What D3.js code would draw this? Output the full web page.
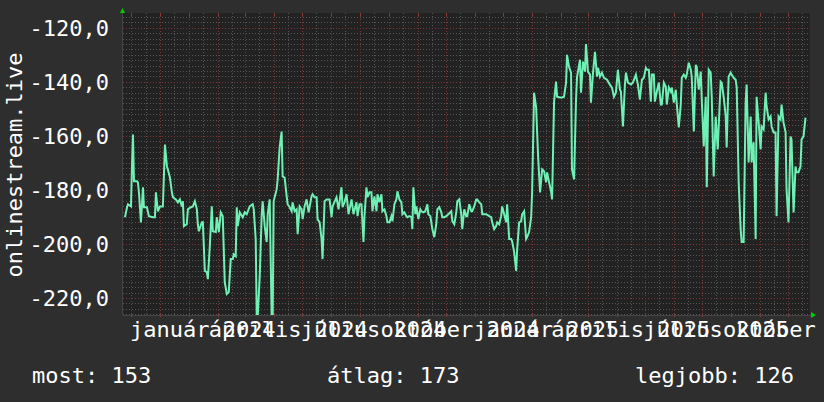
<!DOCTYPE html>
<html><head><meta charset="utf-8">
<script src="https://cdn.jsdelivr.net/npm/d3@7"></script>
<style>html,body{margin:0;padding:0;background:#2e2e2e;}svg{display:block}</style>
</head><body><svg id="c" width="824" height="402"></svg>
<script>
// ---------------- data ----------------
const startDate = "2023-10-23";
const endDate = "2025-10-24";
const yDomain = [-226.3, -114.5];
const yTicks = [-120, -140, -160, -180, -200, -220];
const yMinorStep = 2;
const monthNames = ["január","február","március","április","május","június","július","augusztus","szeptember","október","november","december"];
const labelDates = ["2024-01-01","2024-04-01","2024-07-01","2024-10-01","2025-01-01","2025-04-01","2025-07-01","2025-10-01"];
const yTitle = "onlinestream.live";
const legendTexts = ["most: 153", "átlag: 173", "legjobb: 126"];
// [days since startDate, value]
const series = [
[2.1,-190.1],[4.3,-186.4],[5.3,-185.3],[8.5,-186.1],[9.6,-170.6],[10.6,-159.5],[11.7,-176.8],[14.9,-176.8],[15.9,-177.2],[17.0,-180.9],
[19.1,-192.0],[21.3,-179.0],[22.3,-186.4],[25.5,-186.4],[27.6,-189.7],[31.9,-190.1],[34.0,-190.1],[35.1,-180.9],[37.2,-187.9],[39.3,-186.1],
[42.5,-186.1],[44.7,-163.2],[46.8,-171.3],[47.8,-172.4],[50.0,-175.4],[52.1,-180.9],[53.2,-182.7],[56.3,-183.5],[58.5,-184.6],[60.6,-183.5],
[62.7,-186.1],[63.8,-184.2],[64.9,-193.4],[68.0,-192.7],[69.1,-187.2],[72.3,-186.4],[74.4,-186.1],[76.6,-184.2],[78.7,-187.2],[79.7,-192.7],
[80.8,-195.3],[84.0,-192.0],[85.1,-192.0],[87.2,-210.0],[89.3,-210.4],[90.4,-213.0],[92.5,-200.8],[94.6,-186.1],[95.7,-195.3],[98.9,-195.6],
[99.9,-190.1],[102.1,-195.6],[104.2,-188.3],[106.3,-189.7],[108.4,-214.1],[110.6,-218.5],[112.7,-217.8],[114.8,-205.6],[117.0,-205.6],[118.0,-203.8],
[120.1,-204.5],[121.2,-186.4],[122.3,-193.4],[124.4,-188.3],[127.6,-190.1],[129.7,-188.3],[131.8,-189.0],[135.0,-186.1],[138.2,-185.3],[139.3,-187.2],
[141.4,-198.2],[142.5,-227],[143.5,-227],[145.7,-211.9],[147.8,-189.0],[148.8,-184.2],[151.0,-193.4],[153.1,-199.3],[154.2,-189.0],[156.3,-183.5],
[158.4,-227],[159.5,-227],[160.5,-184.2],[163.7,-179.8],[164.8,-176.1],[166.9,-164.3],[169.0,-158.4],[170.1,-175.0],[172.2,-175.4],[174.4,-182.4],
[175.4,-185.3],[177.6,-186.4],[179.7,-187.9],[180.7,-184.6],[182.9,-187.9],[185.0,-187.2],[186.1,-196.4],[188.2,-186.1],[190.3,-187.2],[191.4,-190.8],
[193.5,-186.1],[195.6,-183.5],[197.8,-188.3],[200.9,-182.4],[202.0,-181.6],[204.1,-182.7],[206.3,-182.7],[207.3,-190.8],[209.5,-192.0],[211.6,-198.2],
[212.6,-205.6],[214.8,-184.2],[216.9,-183.5],[220.1,-183.5],[222.2,-190.1],[223.3,-186.1],[227.5,-182.7],[229.7,-187.2],[232.8,-179.0],[233.9,-186.4],
[236.0,-184.6],[238.2,-181.6],[240.3,-189.0],[243.5,-183.5],[245.6,-189.0],[248.8,-184.6],[249.9,-189.7],[252.0,-185.3],[254.1,-185.3],[256.2,-199.3],
[257.3,-189.7],[259.4,-179.0],[260.5,-182.7],[262.6,-180.9],[264.7,-180.9],[265.8,-187.9],[267.9,-182.4],[270.1,-187.9],[271.1,-181.6],[273.2,-184.6],
[275.4,-181.6],[276.4,-187.9],[278.6,-187.2],[280.7,-189.7],[281.7,-192.0],[283.9,-192.0],[286.0,-189.7],[287.1,-191.6],[289.2,-185.3],[291.3,-183.5],
[292.4,-180.5],[294.5,-183.5],[296.6,-184.6],[297.7,-189.0],[299.8,-188.3],[301.9,-189.7],[303.0,-190.1],[305.1,-189.7],[307.3,-190.1],[308.3,-194.5],
[309.4,-179.0],[311.5,-189.0],[312.6,-186.1],[314.7,-190.8],[316.8,-187.2],[317.9,-187.9],[320.0,-188.3],[322.1,-187.9],[324.3,-185.3],[325.3,-189.0],
[327.5,-189.7],[329.6,-194.5],[331.7,-197.5],[333.8,-192.7],[334.9,-187.2],[337.0,-186.4],[339.2,-188.3],[340.2,-190.1],[342.4,-190.1],[344.5,-189.7],
[346.6,-189.0],[349.8,-187.9],[350.9,-191.6],[353.0,-192.7],[355.1,-188.3],[356.2,-184.2],[358.3,-183.5],[360.4,-189.0],[361.5,-194.5],[363.6,-187.2],
[365.7,-189.7],[366.8,-189.7],[368.9,-185.3],[371.1,-187.9],[372.1,-187.9],[374.2,-186.1],[376.4,-183.5],[377.4,-183.5],[379.6,-184.6],[381.7,-185.3],
[382.8,-189.0],[387.0,-189.0],[390.2,-189.7],[392.3,-190.1],[393.4,-192.0],[395.5,-194.5],[397.6,-193.4],[398.7,-192.0],[400.8,-192.7],[402.9,-189.7],
[404.0,-186.1],[406.1,-189.0],[408.3,-192.0],[409.3,-185.3],[411.5,-198.2],[413.6,-198.2],[414.6,-199.0],[416.8,-203.0],[418.9,-210.0],[420.0,-201.9],
[422.1,-192.0],[424.2,-191.6],[425.3,-189.0],[427.4,-187.9],[429.5,-198.2],[430.6,-197.5],[432.7,-195.6],[434.9,-190.1],[435.9,-180.9],[438.0,-144.0],
[440.2,-149.5],[442.3,-167.6],[444.4,-180.9],[446.6,-172.4],[448.7,-173.1],[450.8,-177.2],[451.9,-173.5],[454.0,-177.2],[456.1,-180.5],[457.2,-183.5],
[459.3,-147.3],[461.4,-139.9],[462.5,-145.5],[465.7,-145.8],[467.8,-145.8],[469.9,-145.5],[472.1,-140.3],[473.1,-130.0],[475.2,-134.4],[477.4,-136.6],
[478.4,-172.4],[480.6,-176.1],[482.7,-146.6],[483.8,-138.1],[486.9,-131.8],[488.0,-144.0],[490.1,-132.5],[492.3,-136.2],[493.3,-126.0],[495.4,-136.2],
[497.6,-137.3],[498.6,-147.7],[500.8,-136.6],[502.9,-128.9],[505.0,-138.1],[506.1,-134.8],[508.2,-138.1],[510.3,-136.6],[512.5,-138.5],[515.7,-139.2],
[518.8,-141.0],[521.0,-142.1],[523.1,-145.5],[525.2,-144.0],[527.3,-135.5],[529.5,-142.9],[530.5,-143.6],[532.7,-156.5],[534.8,-141.0],[535.9,-136.6],
[538.0,-140.3],[541.2,-141.0],[543.3,-140.3],[546.5,-137.3],[548.6,-141.0],[550.7,-146.6],[552.9,-139.2],[555.0,-138.5],[557.1,-134.8],[558.2,-135.5],
[560.3,-135.5],[562.4,-147.3],[563.5,-137.3],[565.6,-137.3],[566.7,-147.3],[568.8,-143.6],[570.9,-140.3],[573.0,-148.4],[574.1,-148.4],[576.3,-140.3],
[578.4,-141.8],[579.4,-148.4],[581.6,-142.1],[583.7,-143.6],[584.8,-142.1],[586.9,-147.7],[589.0,-142.9],[590.1,-148.4],[592.2,-156.9],[594.3,-148.4],
[595.4,-138.5],[597.5,-137.3],[599.6,-138.5],[600.7,-137.3],[602.8,-132.9],[605.0,-135.5],[606.0,-138.1],[608.2,-158.4],[610.3,-133.7],[611.3,-134.4],
[613.5,-142.9],[615.6,-136.2],[616.7,-146.6],[618.8,-163.9],[620.9,-145.5],[622.0,-179.0],[624.1,-135.5],[626.2,-136.6],[627.3,-145.5],[629.4,-175.0],
[631.5,-152.8],[633.7,-165.0],[636.8,-139.9],[637.9,-140.3],[640.0,-145.5],[642.2,-152.8],[643.2,-164.3],[645.3,-138.1],[647.5,-136.6],[648.5,-137.3],
[650.7,-138.5],[652.8,-139.2],[653.9,-142.1],[656.0,-177.2],[658.1,-194.5],[659.2,-199.3],[661.3,-199.3],[663.4,-147.7],[664.5,-141.0],[666.6,-169.8],
[668.8,-152.8],[669.8,-169.8],[671.9,-162.4],[674.1,-198.2],[675.1,-145.5],[677.3,-155.1],[679.4,-165.0],[680.4,-156.5],[682.6,-157.6],[684.7,-144.0],
[685.8,-149.2],[687.9,-153.9],[690.0,-152.8],[691.1,-156.5],[693.2,-158.7],[695.3,-158.7],[696.4,-189.7],[698.5,-152.8],[700.6,-153.9],[701.7,-148.4],
[703.8,-155.1],[706.0,-158.7],[707.0,-179.8],[709.1,-192.0],[711.3,-160.2],[712.3,-161.3],[714.5,-188.3],[716.6,-171.3],[717.7,-173.5],[719.8,-173.5],
[721.9,-171.3],[723.0,-161.3],[725.1,-160.2],[727.2,-153.2]
];

// ---------------- layout ----------------
const W = 824, H = 402;
const P = {left: 123, right: 810, top: 13, bottom: 315};
const FONT = "'DejaVu Sans Mono', monospace";
const svg = d3.select("#c");
svg.append("rect").attr("width", W).attr("height", H).attr("fill", "#2e2e2e");
svg.append("rect").attr("x", P.left).attr("y", P.top)
  .attr("width", P.right - P.left).attr("height", P.bottom - P.top).attr("fill", "#222222");

const parse = d3.utcParse("%Y-%m-%d");
const t0 = parse(startDate), t1 = parse(endDate);
const x = d3.scaleUtc().domain([t0, t1]).range([P.left, P.right]);
const y = d3.scaleLinear().domain(yDomain).range([P.bottom, P.top]);
const dayMs = 86400000;
const pts = series.map(([d, v]) => ({t: new Date(t0.getTime() + d * dayMs), v}));

// grid: horizontal minor
const g = svg.append("g");
const minorY = d3.range(Math.ceil(yDomain[0] / yMinorStep) * yMinorStep, yDomain[1], yMinorStep)
  .filter(v => !yTicks.includes(v));
g.selectAll(".hm").data(minorY).join("line")
  .attr("x1", P.left).attr("x2", P.right)
  .attr("y1", d => Math.round(y(d)) + 0.5).attr("y2", d => Math.round(y(d)) + 0.5)
  .attr("stroke", "#555").attr("stroke-dasharray", "1,2").attr("stroke-width", 1);
// vertical minor: 1st and 16th of each month
const months = d3.utcMonth.range(d3.utcMonth.floor(t0), t1);
const mids = months.map(m => d3.utcDay.offset(m, 15)).filter(d => d > t0 && d < t1);
g.selectAll(".vm").data(mids).join("line")
  .attr("y1", P.top).attr("y2", P.bottom)
  .attr("x1", d => Math.round(x(d)) + 0.5).attr("x2", d => Math.round(x(d)) + 0.5)
  .attr("stroke", "#555").attr("stroke-dasharray", "1,2");
const monthLines = months.filter(d => d > t0 && d < t1);
g.selectAll(".vM").data(monthLines).join("line")
  .attr("y1", P.top).attr("y2", P.bottom)
  .attr("x1", d => Math.round(x(d)) + 0.5).attr("x2", d => Math.round(x(d)) + 0.5)
  .attr("stroke", "#7a3535").attr("stroke-dasharray", "1,2");
g.selectAll(".hM").data(yTicks).join("line")
  .attr("x1", P.left).attr("x2", P.right)
  .attr("y1", d => Math.round(y(d)) + 0.5).attr("y2", d => Math.round(y(d)) + 0.5)
  .attr("stroke", "#7a3535").attr("stroke-dasharray", "1,2");
// small ticks at edges
g.selectAll(".tb").data(monthLines).join("line")
  .attr("x1", d => Math.round(x(d)) + 0.5).attr("x2", d => Math.round(x(d)) + 0.5)
  .attr("y1", P.bottom - 2).attr("y2", P.bottom + 2).attr("stroke", "#8a3a3a");
g.selectAll(".tt").data(monthLines).join("line")
  .attr("x1", d => Math.round(x(d)) + 0.5).attr("x2", d => Math.round(x(d)) + 0.5)
  .attr("y1", P.top).attr("y2", P.top + 3).attr("stroke", "#8a3a3a");

// data line
const clip = svg.append("clipPath").attr("id", "pc").append("rect")
  .attr("x", P.left).attr("y", P.top).attr("width", P.right - P.left).attr("height", P.bottom - P.top);
svg.append("path").datum(pts)
  .attr("clip-path", "url(#pc)")
  .attr("fill", "none").attr("stroke", "#6ff0b4").attr("stroke-width", 2)
  .attr("stroke-linejoin", "miter")
  .attr("d", d3.line().x(d => x(d.t)).y(d => y(d.v)));

// axes lines
svg.append("line").attr("x1", P.left).attr("x2", P.right + 2).attr("y1", P.bottom + 0.5).attr("y2", P.bottom + 0.5).attr("stroke", "#444");
svg.append("line").attr("x1", P.left - 0.5).attr("x2", P.left - 0.5).attr("y1", P.top - 2).attr("y2", P.bottom).attr("stroke", "#444");
// arrows
svg.append("path").attr("d", `M${P.left - 3},${P.top} L${P.left + 2},${P.top} L${P.left - 0.5},${P.top - 5} Z`).attr("fill", "#00d000");
svg.append("path").attr("d", `M${P.right + 1},${P.bottom - 3} L${P.right + 1},${P.bottom + 3} L${P.right + 6},${P.bottom} Z`).attr("fill", "#00d000");

// y labels
const fmtY = v => d3.format(".1f")(v).replace(".", ",").replace("−", "-");
svg.selectAll(".yl").data(yTicks).join("text")
  .attr("x", 109).attr("y", d => y(d) + 8)
  .attr("text-anchor", "end").attr("fill", "#fff")
  .style("font-family", FONT).style("font-size", "22px")
  .text(fmtY);

// x labels
const hu = d3.timeFormatLocale({
  dateTime: "%Y. %B %-e. %X", date: "%Y. %m. %d.", time: "%H:%M:%S",
  periods: ["de.", "du."], days: ["vasárnap","hétfő","kedd","szerda","csütörtök","péntek","szombat"],
  shortDays: ["V","H","K","Sze","Cs","P","Szo"], months: monthNames,
  shortMonths: monthNames.map(m => m.slice(0, 3))
});
const fmtX = hu.utcFormat("%B %Y");
svg.selectAll(".xl").data(labelDates.map(parse)).join("text")
  .attr("x", d => (x(d) + x(d3.utcDay.offset(d, 30))) / 2)
  .attr("y", 337).attr("text-anchor", "middle").attr("fill", "#fff")
  .style("font-family", FONT).style("font-size", "22px")
  .text(fmtX);

// y title
svg.append("text").attr("transform", "translate(22,165) rotate(-90)")
  .attr("text-anchor", "middle").attr("fill", "#fff")
  .style("font-family", FONT).style("font-size", "22px").text(yTitle);

// legend
const legX = [32, 327, 635];
svg.selectAll(".lg").data(legendTexts).join("text")
  .attr("x", (d, i) => legX[i]).attr("y", 383).attr("fill", "#fff")
  .style("font-family", FONT).style("font-size", "22px").text(d => d);
</script></body></html>
